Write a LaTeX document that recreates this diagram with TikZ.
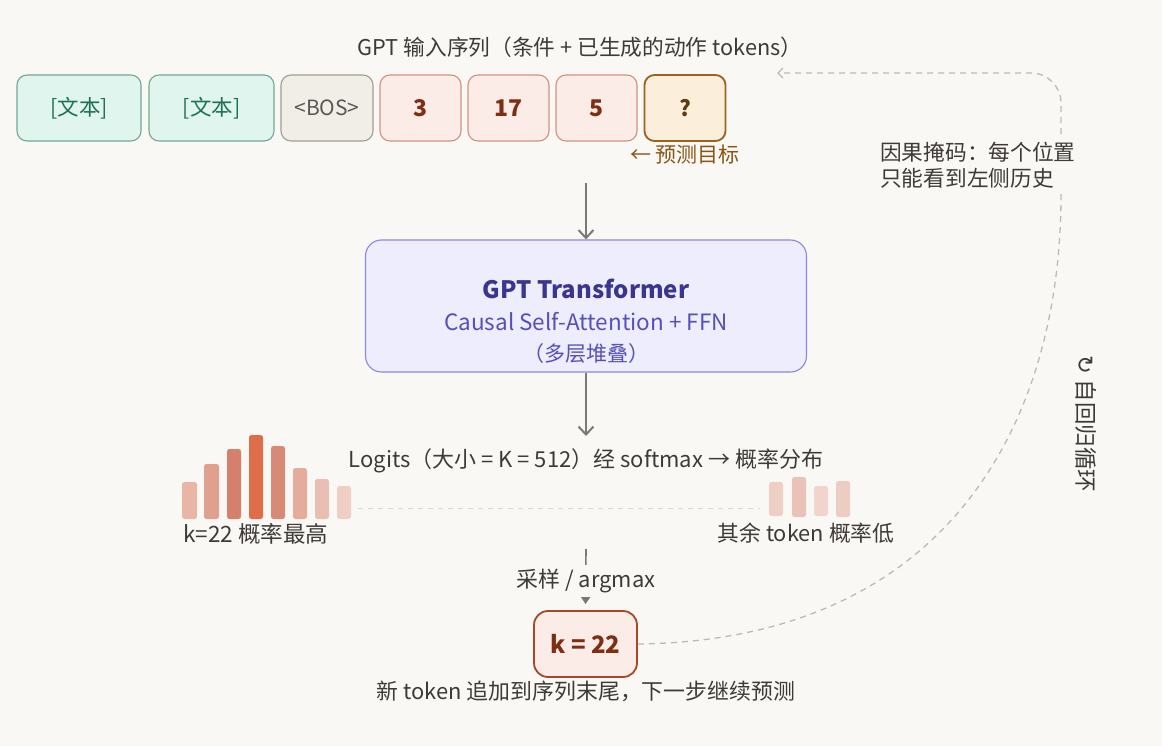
\documentclass[tikz,border=0pt]{standalone}
\usepackage{fontspec}
\setmainfont{Noto Sans CJK SC}
\newfontfamily\symfont{DejaVu Sans}
\usetikzlibrary{arrows.meta}
\definecolor{bg}{HTML}{FAF8F4}
\definecolor{ink}{HTML}{3D3A37}
\definecolor{arr}{HTML}{7B7976}
\definecolor{gfill}{HTML}{E0F5EE}\definecolor{gline}{HTML}{6EAA95}\definecolor{gtext}{HTML}{1C7156}
\definecolor{bfill}{HTML}{F1EEE8}\definecolor{bline}{HTML}{A29C96}\definecolor{btext}{HTML}{5A5855}
\definecolor{rfill}{HTML}{FBECE7}\definecolor{rline}{HTML}{D2907F}\definecolor{rtext}{HTML}{7E2E12}
\definecolor{qfill}{HTML}{FBEFDB}\definecolor{qline}{HTML}{9A6420}\definecolor{qtext}{HTML}{5E3A10}
\definecolor{brown}{HTML}{8A5515}
\definecolor{tfill}{HTML}{EEEDFD}\definecolor{tline}{HTML}{8B87DC}\definecolor{ttitle}{HTML}{3B3590}\definecolor{tsub}{HTML}{5550BA}
\definecolor{kline}{HTML}{A8472A}
\definecolor{loopc}{HTML}{BDB9B4}
\definecolor{sepc}{HTML}{DAD6D0}
\definecolor{b1}{HTML}{E8B5A6}\definecolor{b2}{HTML}{E0A090}\definecolor{b3}{HTML}{D4806C}\definecolor{b4}{HTML}{DE6D4A}
\definecolor{b5}{HTML}{D88A78}\definecolor{b6}{HTML}{E3AC9C}\definecolor{b7}{HTML}{E9BFB3}\definecolor{b8}{HTML}{EFCFC4}
\definecolor{c1}{HTML}{EDCFC4}\definecolor{c2}{HTML}{E9C3B7}\definecolor{c3}{HTML}{F1D5CC}\definecolor{c4}{HTML}{EDCCC1}
\tikzset{
  fs/.style={font=\fontsize{#1}{26}\selectfont},
  fsb/.style={font=\bfseries\fontsize{#1}{28}\selectfont},
  tok/.style={draw, rounded corners=10pt, line width=1.1pt, minimum height=66pt, inner sep=0pt},
  txt/.style={text=ink, inner sep=1pt},
  mainarrow/.style={draw=arr, line width=2.2pt, -{Straight Barb[length=8pt,width=15pt,line width=2pt]}},
  smallarrow/.style={draw=arr, line width=1.6pt, -{Triangle[length=7pt,width=9pt]}},
  loopline/.style={draw=loopc, line width=1.3pt, dash pattern=on 6pt off 5pt, -{Straight Barb[length=5pt,width=10pt,line width=1.3pt]}},
  bar/.style={rounded corners=2.5pt},
}
\begin{document}
\begin{tikzpicture}[x=1pt,y=-1pt]
\fill[bg] (0,0) rectangle (1162,746);
\useasboundingbox (0,0) rectangle (1162,746);

% title
\node[txt, fs=21.7] (title) at (580,47) {GPT 输入序列（条件 + 已生成的动作 tokens）};

% tokens
\node[tok, fill=gfill, draw=gline, text=gtext, minimum width=124pt, fs=21.5] (t1) at (79,108) {[文本]};
\node[tok, fill=gfill, draw=gline, text=gtext, minimum width=125pt, fs=21.5] (t2) at (211.5,108) {[文本]};
\node[tok, fill=bfill, draw=bline, text=btext, minimum width=92pt, fs=21] (t3) at (327,108) {<BOS>};
\node[tok, fill=rfill, draw=rline, text=rtext, minimum width=81pt, fsb=23] (t4) at (420.5,108) {3};
\node[tok, fill=rfill, draw=rline, text=rtext, minimum width=81pt, fsb=23] (t5) at (508.5,108) {17};
\node[tok, fill=rfill, draw=rline, text=rtext, minimum width=81pt, fsb=23] (t6) at (596.5,108) {5};
\node[tok, fill=qfill, draw=qline, line width=1.8pt, text=qtext, minimum width=81pt, fsb=22] (t7) at (685,108) {?};
\node[text=brown, fs=21, inner sep=1pt] (pred) at (685,155) {← 预测目标};

% transformer
\coordinate (a1) at (586,183);
\node[draw=tline, fill=tfill, line width=1.1pt, rounded corners=16pt, minimum width=441pt, minimum height=132pt] (tf) at (586,306) {};
\node[text=ttitle, fsb=24] (tft) at (586,289) {GPT Transformer};
\node[text=tsub, fs=22.5] (tfs) at (586,322) {Causal Self-Attention + FFN};
\node[text=tsub, fs=21] (tfc) at (586,354) {（多层堆叠）};
\draw[mainarrow] (a1) -- (tf.north);
\coordinate (a2) at (586,436);
\draw[mainarrow] (tf.south) -- (a2);

% logits
\node[txt, fs=22] (logits) at (586,461) {Logits（大小 = K = 512）经 softmax → 概率分布};

% bars left
\fill[bar, b1] (182,482) rectangle (197,519);
\fill[bar, b2] (204,464) rectangle (219,519);
\fill[bar, b3] (227,449) rectangle (241,519);
\fill[bar, b4] (249,435) rectangle (263,519);
\fill[bar, b5] (271,446) rectangle (285,519);
\fill[bar, b6] (293,468) rectangle (307,519);
\fill[bar, b7] (315,479) rectangle (329,519);
\fill[bar, b8] (337,486) rectangle (351,519);
% bars right
\fill[bar, c1] (769,482) rectangle (783,516);
\fill[bar, c2] (792,477) rectangle (806,517);
\fill[bar, c3] (814,486) rectangle (828,516);
\fill[bar, c4] (836,481) rectangle (850,517);
% separator
\coordinate (s1) at (358,508);
\coordinate (s2) at (760,508);
\draw[sepc, line width=1pt, dash pattern=on 5pt off 5pt] (s1) -- (s2);

\node[txt, fs=22.5, anchor=west] (hi) at (182,534) {k=22 概率最高};
\node[txt, fs=21.8] (lo) at (806,533) {其余 token 概率低};

% sampling
\coordinate (s0) at (586,549);
\node[draw=kline, fill=rfill, line width=1.8pt, rounded corners=14pt, minimum width=103pt, minimum height=66pt, text=rtext, fsb=24] (k) at (585.5,644) {k = 22};
\draw[smallarrow, shorten >=6pt] (s0) -- (k.north);
\node[txt, fs=21.9, fill=bg, inner sep=4pt] (samp) at (586,581) {采样 / argmax};

\node[txt, fs=21.9] (newt) at (586,691) {新 token 追加到序列末尾，下一步继续预测};

% loop
\coordinate (lt) at (777,73);
\draw[loopline] (k.east) .. controls (950,640) and (1061,420) .. (1061,195) [rounded corners=30pt] -- (1061,73) -- (lt);
\node[txt, fs=21.7, fill=bg, align=left, anchor=west, inner sep=3pt] (mask) at (877,165) {因果掩码：每个位置\\只能看到左侧历史};
\node[txt, fs=22.5, rotate=-90] (auto) at (1086,424) {{\symfont ↻} 自回归循环};
\end{tikzpicture}
\end{document}
